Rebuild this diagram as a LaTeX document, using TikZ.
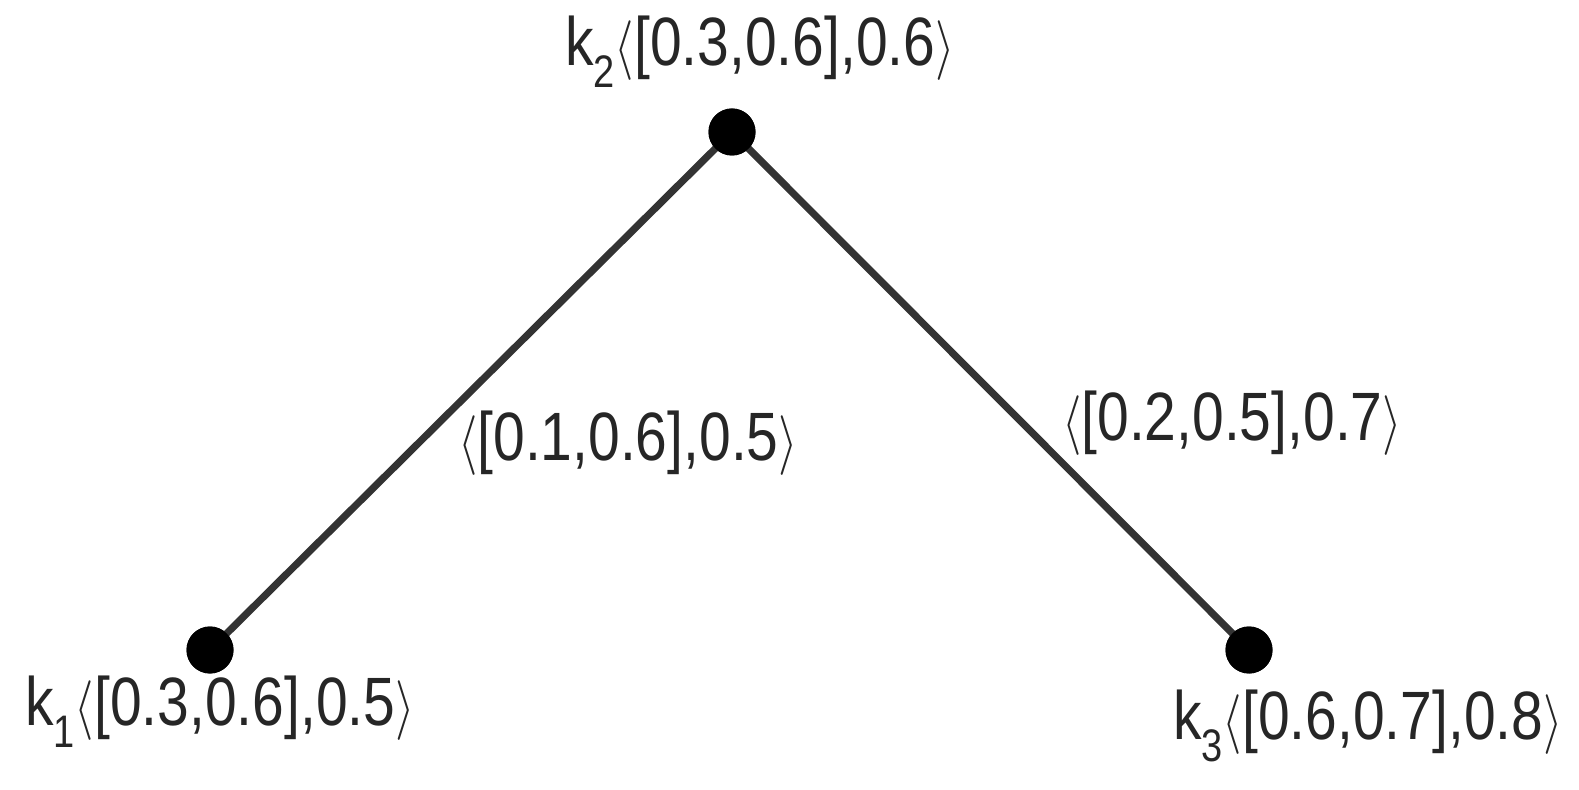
\documentclass[tikz,border=0pt]{standalone}
\usepackage{fontspec}
\setmainfont{Liberation Sans}
\newcommand{\la}{$\langle$}
\newcommand{\ra}{$\rangle$}
\newcommand{\subk}[1]{k\raisebox{-0.32em}{\fontsize{19pt}{19pt}\selectfont #1}}
\newcommand{\tall}[1]{\scalebox{1}[1.2]{#1}}
\begin{document}
\begin{tikzpicture}[x=0.5pt,y=-0.5pt,
  dot/.style={circle,fill=black,inner sep=0pt,minimum size=23.5pt},
  edge/.style={draw=black!80,line width=3.6pt},
  lbl/.style={font=\fontsize{28.5pt}{30pt}\selectfont,text=black!85,inner sep=0pt}]
\useasboundingbox (0,0) rectangle (1579,790);
\node[dot] (k2) at (732,132) {};
\node[dot] (k1) at (210,650) {};
\node[dot] (k3) at (1249,650) {};
\draw[edge] (k2.center) -- (k1.center);
\draw[edge] (k2.center) -- (k3.center);
\node[dot] at (k2) {};
\node[dot] at (k1) {};
\node[dot] at (k3) {};
\node[lbl] (l2) at (760,52) {\tall{\subk{2}\la[0.3,0.6],0.6\ra}};
\node[lbl] (l1) at (220,712) {\tall{\subk{1}\la[0.3,0.6],0.5\ra}};
\node[lbl] (l3) at (1368,726) {\tall{\subk{3}\la[0.6,0.7],0.8\ra}};
\node[lbl] (e1) at (628,443) {\tall{\la[0.1,0.6],0.5\ra}};
\node[lbl] (e2) at (1232,423) {\tall{\la[0.2,0.5],0.7\ra}};
\end{tikzpicture}
\end{document}
